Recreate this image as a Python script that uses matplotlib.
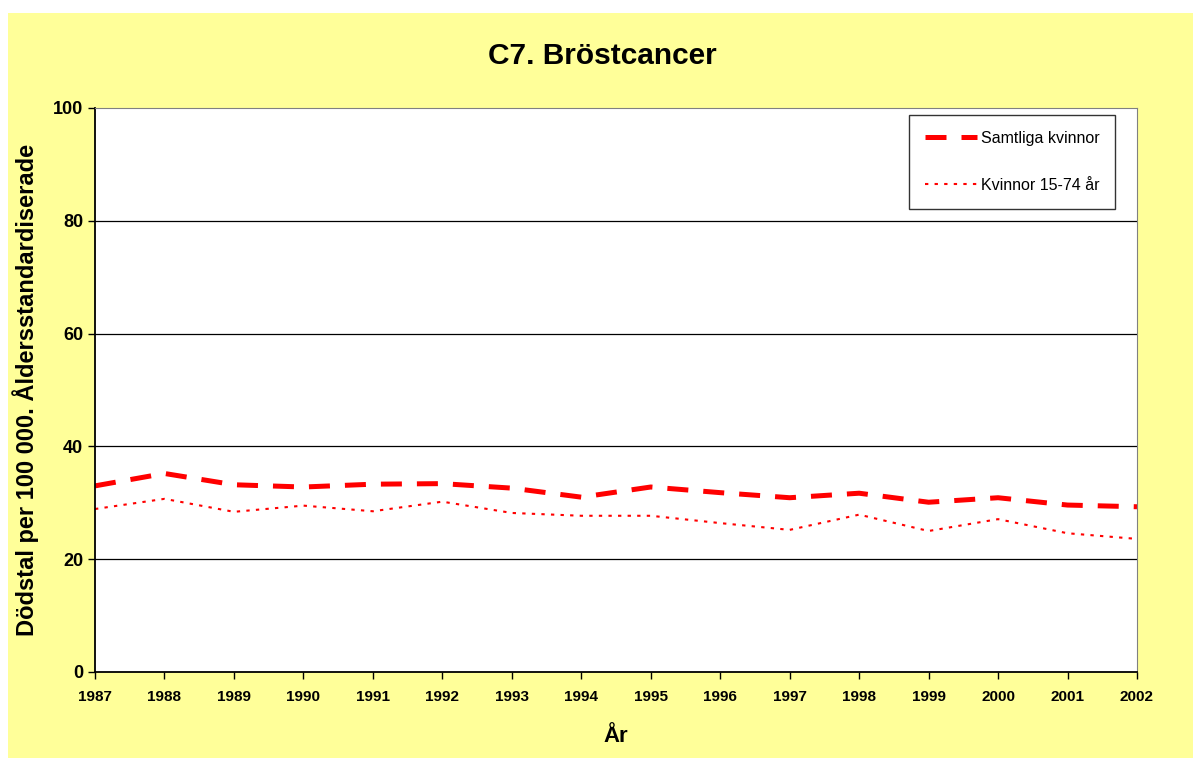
import matplotlib
matplotlib.use("Agg")
import matplotlib.pyplot as plt
from matplotlib.patches import Rectangle

# data
years = list(range(1987, 2003))
samtliga = [33.0, 35.2, 33.2, 32.8, 33.3, 33.4, 32.6, 31.0, 32.8, 31.8, 30.9, 31.7, 30.1, 30.9, 29.6, 29.3]
kvinnor_15_74 = [28.9, 30.7, 28.4, 29.5, 28.5, 30.2, 28.2, 27.7, 27.7, 26.4, 25.2, 27.9, 25.0, 27.1, 24.6, 23.6]
yticks = [0, 20, 40, 60, 80, 100]

plt.rcParams['font.family'] = ['Liberation Sans', 'DejaVu Sans']

fig = plt.figure(figsize=(11.93, 7.58), dpi=100)
fig.patch.set_facecolor('white')
# yellow chart area (starts a little in from top left)
fig.patches.append(Rectangle((8 / 1193, 0), 1 - 8 / 1193, 1 - 13 / 758,
                             transform=fig.transFigure, facecolor='#FFFF99',
                             edgecolor='none', zorder=-10))

ax = fig.add_axes([95 / 1193, 86 / 758, 1042 / 1193, 564 / 758])
ax.set_facecolor('white')
ax.set_zorder(1)

ax.plot(years, samtliga, color='red', lw=3.6, dashes=(4.2, 3), label='Samtliga kvinnor')
ax.plot(years, kvinnor_15_74, color='red', lw=1.5, dashes=(1.6, 3), label='Kvinnor 15-74 år')

ax.set_xlim(1987, 2002)
ax.set_ylim(0, 100)
ax.set_xticks(years)
ax.set_yticks(yticks)
ax.set_xticklabels([str(y) for y in years], fontsize=11, fontweight='bold')
ax.set_yticklabels([str(y) for y in yticks], fontsize=13, fontweight='bold')
ax.tick_params(axis='both', direction='out', length=5, width=1, color='black')
ax.tick_params(axis='x', pad=8)

for y in yticks[1:-1]:
    ax.axhline(y, color='black', lw=0.9, zorder=1)

ax.spines['left'].set_color('black')
ax.spines['bottom'].set_color('black')
ax.spines['left'].set_linewidth(1.3)
ax.spines['bottom'].set_linewidth(1.3)
ax.spines['top'].set_color('#808080')
ax.spines['right'].set_color('#808080')

ax.set_xlabel('År', fontsize=16, fontweight='bold', labelpad=16)
ax.set_ylabel('Dödstal per 100 000. Åldersstandardiserade', fontsize=17,
              fontweight='bold', labelpad=10)
fig.text(0.505, 1 - 56 / 758, 'C7. Bröstcancer', fontsize=21.5, fontweight='bold',
         ha='center', va='center')

leg = ax.legend(loc='upper right', bbox_to_anchor=(0.979, 0.9876), fontsize=11.5,
                frameon=True, fancybox=False, edgecolor='black',
                handlelength=3.3, handletextpad=0.2, borderpad=1.0,
                labelspacing=2.0, borderaxespad=0)
leg.get_frame().set_linewidth(1)

fig.savefig('out.png', dpi=100, facecolor=fig.get_facecolor())
